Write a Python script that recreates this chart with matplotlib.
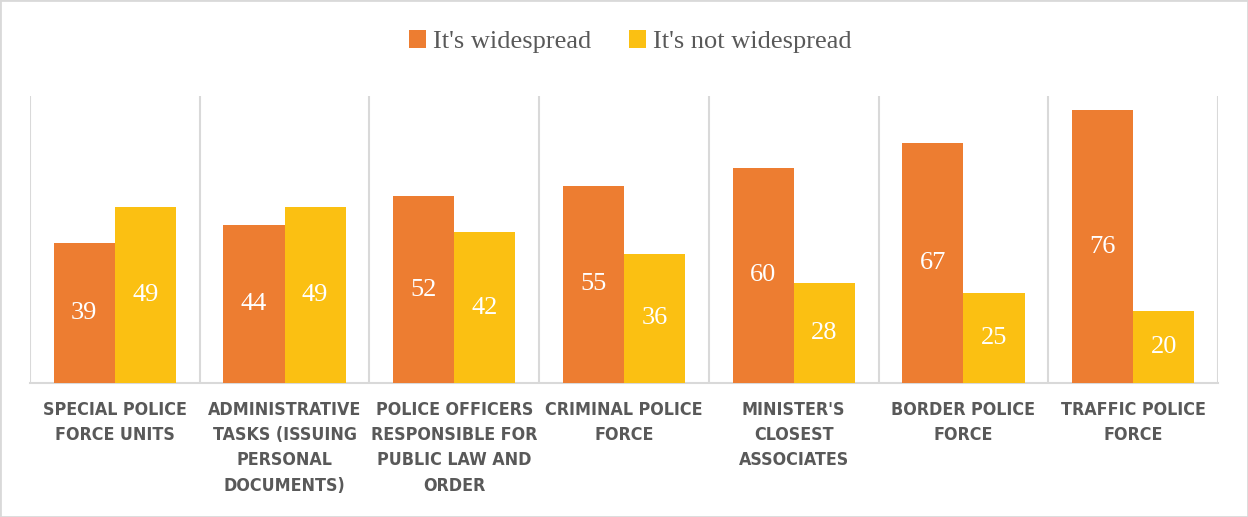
import matplotlib
matplotlib.use("Agg")
import matplotlib.pyplot as plt
import numpy as np
from matplotlib.patches import Rectangle
from matplotlib import font_manager as fm

categories = [
    "SPECIAL POLICE\nFORCE UNITS",
    "ADMINISTRATIVE\nTASKS (ISSUING\nPERSONAL\nDOCUMENTS)",
    "POLICE OFFICERS\nRESPONSIBLE FOR\nPUBLIC LAW AND\nORDER",
    "CRIMINAL POLICE\nFORCE",
    "MINISTER'S\nCLOSEST\nASSOCIATES",
    "BORDER POLICE\nFORCE",
    "TRAFFIC POLICE\nFORCE",
]
widespread = [39, 44, 52, 55, 60, 67, 76]
not_widespread = [49, 49, 42, 36, 28, 25, 20]
series_names = ["It's widespread", "It's not widespread"]

ORANGE = "#ED7D31"
YELLOW = "#FBC012"
GRID = "#D9D9D9"
TEXT = "#595959"

serif = ["Liberation Serif", "DejaVu Serif"]

_STRETCH = {"ultra-condensed": 100, "extra-condensed": 200, "condensed": 300,
            "semi-condensed": 400, "normal": 500}
_WEIGHT = {"normal": 400, "regular": 400, "medium": 500, "semibold": 600,
           "demibold": 600, "bold": 700, "heavy": 800, "black": 900}


def _num(v, table, default):
    if isinstance(v, (int, float)):
        return v
    return table.get(str(v).lower(), default)


# narrowest bold sans face available for the category labels
faces = [f for f in fm.fontManager.ttflist if f.style == "normal"]
bold = [f for f in faces if _num(f.weight, _WEIGHT, 400) >= 600]
pool = bold or faces
pool.sort(key=lambda f: (_num(f.stretch, _STRETCH, 500),
                         abs(_num(f.weight, _WEIGHT, 400) - 700)))
narrow_faces = [f for f in pool if _num(f.stretch, _STRETCH, 500) < 500]
label_font = fm.FontProperties(fname=(narrow_faces or pool)[0].fname)

fig = plt.figure(figsize=(12.48, 5.17), dpi=100)
ax = fig.add_axes([30 / 1248, 1 - 383 / 517, 1188 / 1248, 287 / 517])

# size the label font so that a typical line spans about 143 px
renderer = fig.canvas.get_renderer()
probe = fig.text(0, 0, "SPECIAL POLICE", fontproperties=label_font, fontsize=10)
probe_w = probe.get_window_extent(renderer).width
probe.remove()
label_size = min(17.0, 10 * 143 / probe_w)
label_font.set_size(label_size)

x = np.arange(len(categories))
w = 0.36
b1 = ax.bar(x - w / 2, widespread, w, color=ORANGE, label=series_names[0], zorder=3)
b2 = ax.bar(x + w / 2, not_widespread, w, color=YELLOW, label=series_names[1], zorder=3)

for bars, vals in ((b1, widespread), (b2, not_widespread)):
    for rect, v in zip(bars, vals):
        ax.text(rect.get_x() + rect.get_width() / 2, v / 2, str(v),
                ha="center", va="center", color="white", fontsize=19,
                family=serif, zorder=4)

ax.set_xlim(-0.5, len(categories) - 0.5)
ax.set_ylim(0, 80)
ax.set_yticks([])

# vertical separators between categories
for xb in np.arange(-0.5, len(categories), 1.0):
    ax.axvline(xb, color=GRID, lw=1.5, zorder=1)

for s in ("top", "left", "right"):
    ax.spines[s].set_visible(False)
ax.spines["bottom"].set_color(GRID)
ax.spines["bottom"].set_linewidth(1.5)

size_px = label_size * 100 / 72
ax.set_xticks(x)
ax.set_xticklabels(categories, fontproperties=label_font,
                   color=TEXT, linespacing=26 / (size_px * 0.97), va="top")
ax.tick_params(axis="x", length=0, pad=13)

fig.legend(handles=[b1, b2], labels=series_names, loc="center",
           bbox_to_anchor=(0.505, 0.919), ncol=2, frameon=False,
           prop={"family": serif, "size": 19}, labelcolor=TEXT,
           handlelength=0.65, handleheight=0.65, handletextpad=0.25,
           columnspacing=1.45)

fig.patches.append(Rectangle((0, 0), 1, 1, transform=fig.transFigure,
                             fill=False, edgecolor=GRID, lw=2))

fig.savefig("out.png", dpi=100)
